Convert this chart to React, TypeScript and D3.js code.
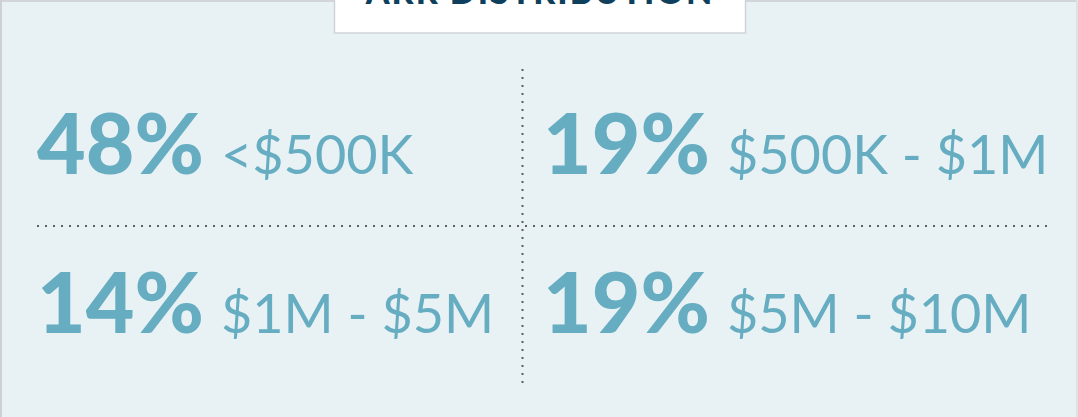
import React from "react";
import * as d3 from "d3";

const percents = [48, 19, 14, 19];
const ranges = ["<$500K", "$500K - $1M", "$1M - $5M", "$5M - $10M"];
const title = "ARR DISTRIBUTION";

const W = 1078;
const H = 417;

export default function App() {
  const col = d3.scaleOrdinal<number, number>().domain([0, 1]).range([37, 543]);
  const row = d3.scaleOrdinal<number, number>().domain([0, 1]).range([174, 333]);
  const accent = "#66adc2";
  const dotColor = "#5b6166";

  return (
    <svg
      width={W}
      height={H}
      style={{ position: "absolute", left: 0, top: 0, display: "block" }}
    >
      <rect x={0} y={0} width={W} height={H} fill="#e8f1f4" />
      <rect x={0} y={0} width={W} height={2} fill="#d3d6d9" />
      <rect x={0} y={0} width={2} height={H} fill="#cdd1d4" />
      <rect x={W - 2} y={0} width={2} height={H} fill="#dde2e5" />

      <rect x={334.5} y={-20} width={411} height={53} fill="#ffffff" stroke="#cfd3d6" strokeWidth={1.5} />
      <text
        x={540}
        y={4}
        textAnchor="middle"
        fontFamily="Lato, sans-serif"
        fontWeight={900}
        fontSize={34}
        letterSpacing={2}
        fill="#0e3f5c"
      >
        {title}
      </text>

      <line
        x1={522.5}
        x2={522.5}
        y1={69}
        y2={386}
        stroke={dotColor}
        strokeWidth={2}
        strokeDasharray="2 6"
      />
      <line
        x1={37}
        x2={1049}
        y1={226}
        y2={226}
        stroke={dotColor}
        strokeWidth={2}
        strokeDasharray="2 6"
      />

      {percents.map((p, i) => (
        <text
          key={i}
          x={col(i % 2)}
          y={row(Math.floor(i / 2))}
          fontFamily="Lato, sans-serif"
          fill={accent}
        >
          <tspan fontWeight={900} fontSize={84}>{`${p}%`}</tspan>
          <tspan dx={17} fontWeight={400} fontSize={54}>{ranges[i]}</tspan>
        </text>
      ))}
    </svg>
  );
}
